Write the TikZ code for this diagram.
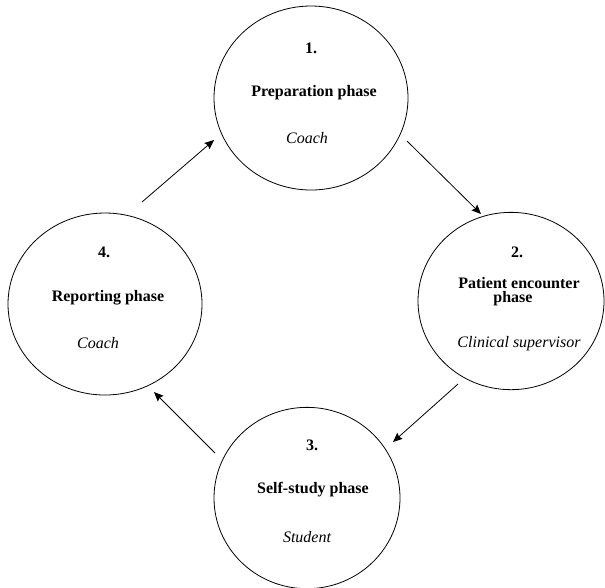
\documentclass[tikz,border=0pt]{standalone}
\usepackage{fontspec}
\setmainfont{Liberation Serif}
\usetikzlibrary{shapes.geometric,arrows.meta}
\begin{document}
\begin{tikzpicture}[x=0.75pt,y=-0.75pt,
  phase/.style={draw, ellipse, line width=0.6pt, inner sep=0pt},
  lbl/.style={font=\fontsize{12}{13}\selectfont\bfseries, inner sep=0pt, align=center},
  role/.style={font=\fontsize{12}{13}\selectfont\itshape, inner sep=0pt},
  flow/.style={line width=0.6pt, -{Stealth[length=7pt,width=6pt,inset=1pt]}}]
\useasboundingbox (0,0) rectangle (605,587);
% circles
\node[phase, minimum width=145.5pt, minimum height=138pt] (c1) at (311,98) {};
\node[phase, minimum width=139.5pt, minimum height=133pt] (c2) at (511,301) {};
\node[phase, minimum width=139.5pt, minimum height=136pt] (c3) at (307,498) {};
\node[phase, minimum width=145.5pt, minimum height=136.5pt] (c4) at (105,304) {};
% texts circle 1
\node[lbl] (n1) at (311,48) {1.};
\node[lbl] (t1) at (314,93) {Preparation phase};
\node[role] (r1) at (307,138) {Coach};
% circle 2
\node[lbl] (n2) at (517,252) {2.};
\node[lbl] (t2a) at (519,283) {Patient encounter};
\node[lbl] (t2b) at (513,299) {phase};
\node[role] (r2) at (519,344) {Clinical supervisor};
% circle 3
\node[lbl] (n3) at (312,445) {3.};
\node[lbl] (t3) at (313,490) {Self-study phase};
\node[role] (r3) at (307,537) {Student};
% circle 4
\node[lbl] (n4) at (104,252) {4.};
\node[lbl] (t4) at (108,298) {Reporting phase};
\node[role] (r4) at (98,343) {Coach};
% arrows
\coordinate (a1s) at (407,141);
\coordinate (a1e) at (481,214);
\coordinate (a2s) at (458,384);
\coordinate (a2e) at (393,442);
\coordinate (a3s) at (215,453);
\coordinate (a3e) at (154,392);
\coordinate (a4s) at (142,202);
\coordinate (a4e) at (214,140);
\draw[flow] (a1s) -- (a1e);
\draw[flow] (a2s) -- (a2e);
\draw[flow] (a3s) -- (a3e);
\draw[flow] (a4s) -- (a4e);
\end{tikzpicture}
\end{document}
